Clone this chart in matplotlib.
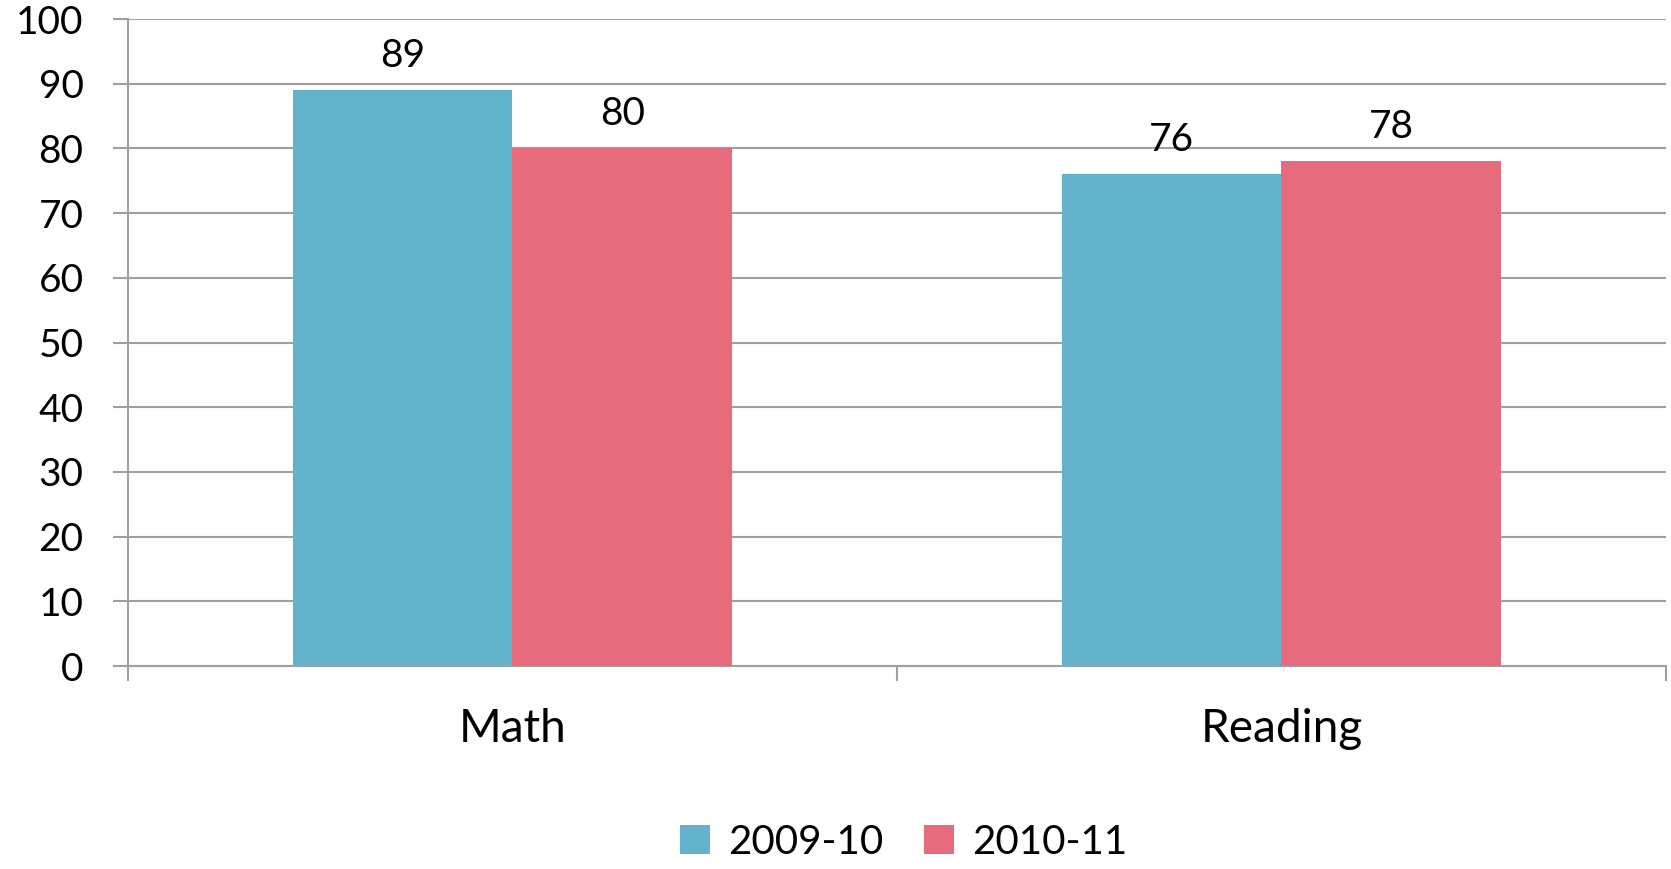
import numpy as np
import matplotlib.pyplot as plt

plt.rcParams['font.family'] = ['Lato', 'DejaVu Sans']

# data
categories = ["Math", "Reading"]
series_names = ["2009-10", "2010-11"]
values_0910 = [89, 76]
values_1011 = [80, 78]
colors = ["#62B4CC", "#E66C7D"]
grid_color = "#A0A0A0"

fig = plt.figure(figsize=(16.71, 8.69), dpi=100)
ax = fig.add_axes([0.0766, 0.2336, 0.9204, 0.7444])

x = np.arange(len(categories))
w = 0.2857  # excel gap width 150%

b1 = ax.bar(x - w / 2, values_0910, w, color=colors[0], label=series_names[0], zorder=3)
b2 = ax.bar(x + w / 2, values_1011, w, color=colors[1], label=series_names[1], zorder=3)

for bars in (b1, b2):
    for r in bars:
        ax.annotate(f"{r.get_height():g}", (r.get_x() + r.get_width() / 2, r.get_height()),
                    xytext=(0, 12), textcoords="offset points", ha="center", va="bottom",
                    fontsize=28)

ax.set_xlim(-0.5, 1.5)
ax.set_ylim(0, 100)
ax.set_yticks(np.arange(0, 101, 10))
ax.yaxis.grid(True, color=grid_color, linewidth=1.5, zorder=0)

# category ticks sit on the boundaries, labels in the middle
ax.set_xticks([-0.5, 0.5, 1.5])
ax.set_xticklabels([])
ax.set_xticks(x, minor=True)
ax.set_xticklabels(categories, minor=True, fontsize=33)
ax.tick_params(axis="x", which="minor", length=0, pad=30)
ax.tick_params(axis="x", which="major", length=11, width=1.5, color=grid_color, direction="out")
ax.tick_params(axis="y", length=11, width=1.5, color=grid_color, labelsize=28, pad=21)

for s in ["top", "right"]:
    ax.spines[s].set_visible(False)
for s in ["left", "bottom"]:
    ax.spines[s].set_color(grid_color)
    ax.spines[s].set_linewidth(1.5)

fig.legend(handles=[b1, b2], loc="center", bbox_to_anchor=(0.541, 0.031), ncol=2,
           frameon=False, fontsize=29, handlelength=0.75, handleheight=0.75,
           handletextpad=0.45, columnspacing=1.0)

fig.savefig("out.png", dpi=100)
